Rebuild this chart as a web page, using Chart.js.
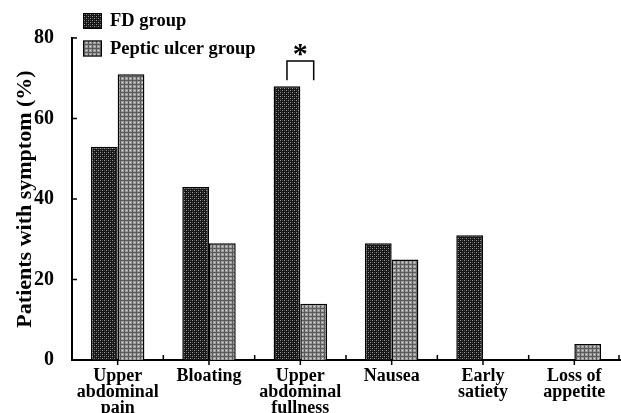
<!DOCTYPE html>
<html lang="en">
<head>
    <meta charset="UTF-8">
    <title>Patients with symptom</title>
    <script src="https://cdn.jsdelivr.net/npm/chart.js"></script>
    <style>
        html, body { margin: 0; padding: 0; background: #fff; }
    </style>
</head>
<body>
    <div style="width:621px;height:413px">
        <canvas id="myChart" width="621" height="413"></canvas>
    </div>

    <script>
        // chart data
        const categories = [
            ['Upper', 'abdominal', 'pain'],
            'Bloating',
            ['Upper', 'abdominal', 'fullness'],
            'Nausea',
            ['Early', 'satiety'],
            ['Loss of', 'appetite']
        ];
        const fdGroup = [53, 43, 68, 29, 31, 0];
        const ulcerGroup = [71, 29, 14, 25, 0, 4];
        const yTicks = [0, 20, 40, 60, 80];
        const seriesNames = ['FD group', 'Peptic ulcer group'];

        const serif = '"Liberation Serif", "Times New Roman", serif';

        // dotted / checkered fills like the printed figure
        function makePattern(base, dots) {
            const c = document.createElement('canvas');
            c.width = 4; c.height = 4;
            const g = c.getContext('2d');
            g.fillStyle = base;
            g.fillRect(0, 0, 4, 4);
            dots.forEach(d => {
                g.fillStyle = d[2];
                g.fillRect(d[0], d[1], 1, 1);
            });
            return g.createPattern(c, 'repeat');
        }
        const ctx = document.getElementById('myChart').getContext('2d');
        const fdFill = makePattern('#161616', [[0, 0, '#9a9a9a'], [2, 2, '#9a9a9a'], [2, 0, '#4a4a4a'], [0, 2, '#4a4a4a']]);
        const ulcerFill = makePattern('#9c9c9c', [[0, 0, '#5a5a5a'], [1, 0, '#5a5a5a'], [2, 0, '#5a5a5a'], [3, 0, '#5a5a5a'],
            [0, 1, '#5a5a5a'], [0, 2, '#5a5a5a'], [0, 3, '#5a5a5a'], [2, 2, '#dcdcdc']]);

        // inside/outside tick marks, legend and significance bracket
        const extras = {
            id: 'extras',
            afterDraw(chart) {
                const c = chart.ctx;
                const x = chart.scales.x;
                const y = chart.scales.y;
                c.save();
                c.strokeStyle = '#000';
                c.lineWidth = 1.5;
                c.beginPath();
                yTicks.forEach(v => {
                    const p = y.getPixelForValue(v);
                    c.moveTo(x.left, p);
                    c.lineTo(x.left + 5, p);
                });
                for (let i = 0; i < categories.length; i++) {
                    const cx = x.getPixelForValue(i);
                    c.moveTo(cx, y.bottom);
                    c.lineTo(cx, y.bottom + 5);
                    const bx = i < categories.length - 1 ? (cx + x.getPixelForValue(i + 1)) / 2 : x.right - 1;
                    c.moveTo(bx, y.bottom);
                    c.lineTo(bx, y.bottom - 5);
                }
                c.stroke();

                // bracket over "Upper abdominal fullness"
                const b0 = chart.getDatasetMeta(0).data[2].x;
                const b1 = chart.getDatasetMeta(1).data[2].x;
                const top = y.getPixelForValue(74.3);
                const low = y.getPixelForValue(69.5);
                c.beginPath();
                c.moveTo(b0, low);
                c.lineTo(b0, top);
                c.lineTo(b1, top);
                c.lineTo(b1, low);
                c.stroke();
                c.fillStyle = '#000';
                c.font = 'bold 30px ' + serif;
                c.textAlign = 'center';
                c.textBaseline = 'alphabetic';
                c.fillText('*', (b0 + b1) / 2, top + 2);

                // legend
                const fills = [fdFill, ulcerFill];
                c.font = 'bold 18.5px ' + serif;
                c.textAlign = 'left';
                c.textBaseline = 'middle';
                c.lineWidth = 1;
                seriesNames.forEach((name, i) => {
                    const ly = 13 + i * 27.5;
                    c.fillStyle = fills[i];
                    c.fillRect(83, ly, 19, 16);
                    c.strokeRect(83.5, ly + 0.5, 18, 15);
                    c.fillStyle = '#000';
                    c.fillText(name, 110, ly + 8.5);
                });
                c.restore();
            }
        };

        new Chart(ctx, {
            type: 'bar',
            data: {
                labels: categories,
                datasets: [{
                    label: seriesNames[0],
                    data: fdGroup,
                    backgroundColor: fdFill,
                    borderColor: '#000',
                    borderWidth: 1.5,
                    categoryPercentage: 0.585,
                    barPercentage: 1.0
                }, {
                    label: seriesNames[1],
                    data: ulcerGroup,
                    backgroundColor: ulcerFill,
                    borderColor: '#000',
                    borderWidth: 1.5,
                    categoryPercentage: 0.585,
                    barPercentage: 1.0
                }]
            },
            options: {
                responsive: false,
                animation: false,
                layout: {
                    padding: { left: 0, right: 1, top: 38, bottom: 0 }
                },
                plugins: {
                    legend: { display: false },
                    tooltip: { enabled: false }
                },
                scales: {
                    x: {
                        grid: { display: false },
                        border: { display: true, color: '#000', width: 2 },
                        ticks: {
                            color: '#000',
                            padding: 0,
                            maxRotation: 0,
                            autoSkip: false,
                            font: { family: serif, size: 18, weight: 'bold', lineHeight: 0.9 }
                        },
                        afterFit(scale) { scale.height = 53; }
                    },
                    y: {
                        min: 0,
                        max: 80,
                        grid: { display: false },
                        border: { display: true, color: '#000', width: 2 },
                        afterBuildTicks(scale) { scale.ticks = yTicks.map(v => ({ value: v })); },
                        ticks: {
                            color: '#000',
                            padding: 10,
                            font: { family: serif, size: 20, weight: 'bold' }
                        },
                        title: {
                            display: true,
                            text: 'Patients with symptom (%)',
                            color: '#000',
                            padding: { top: 12, bottom: 0 },
                            font: { family: serif, size: 22, weight: 'bold' }
                        },
                        afterFit(scale) { scale.width = 72; }
                    }
                }
            },
            plugins: [extras]
        });
    </script>
</body>
</html>
